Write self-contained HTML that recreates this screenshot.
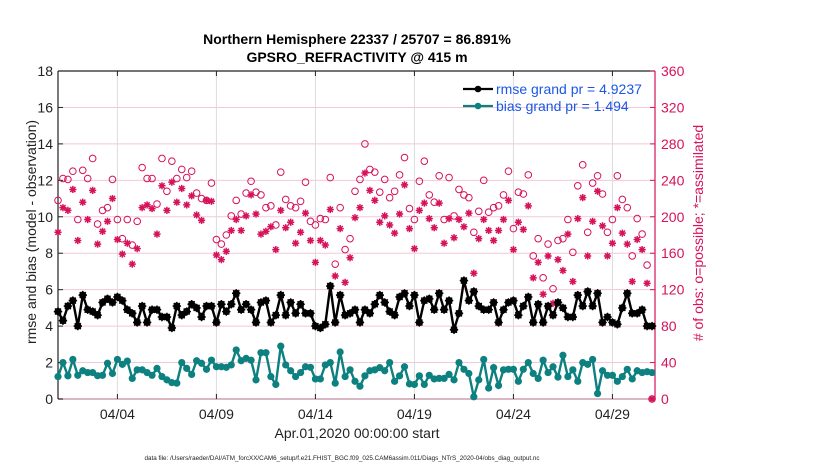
<!DOCTYPE html>
<html><head><meta charset="utf-8">
<style>
html,body{margin:0;padding:0;background:#fff;}
svg{display:block;font-family:"Liberation Sans",Arial,sans-serif;}
</style></head>
<body>
<svg id="chart" width="830" height="470" viewBox="0 0 830 470"></svg>
<script>
const rmseValues=[4.8,4.3,5.1,5.4,4.0,5.7,4.9,4.8,4.6,5.3,5.5,5.3,5.6,5.4,4.9,4.7,4.2,5.1,4.2,4.9,4.9,4.5,4.5,3.9,5.1,4.6,4.8,5.2,5.0,4.5,5.1,5.1,4.2,5.2,4.8,5.2,5.8,4.9,5.2,4.9,4.2,5.3,
5.4,4.2,4.6,5.7,4.6,5.3,4.7,5.2,4.7,4.7,4.0,3.9,4.1,6.2,4.2,5.7,4.6,4.7,4.9,4.2,4.9,4.7,5.2,5.7,5.3,4.8,4.6,5.6,5.8,5.1,5.7,4.2,5.4,5.5,4.9,5.8,4.9,5.4,
3.8,4.7,
6.5,5.4,5.9,5.1,4.9,4.9,5.3,4.2,4.9,5.3,5.4,4.6,5.1,5.6,4.2,5.2,4.2,5.1,4.6,5.3,5.0,4.5,4.5,5.7,5.1,5.9,5.1,5.8,4.2,4.5,4.2,4.1,5.0,5.8,4.7,4.7,4.9,4.0,
4.0];
const biasValues=[1.23,2.0,1.27,2.17,1.3,1.55,1.45,1.45,1.28,1.3,1.96,1.4,2.17,1.9,2.08,1.13,1.6,1.6,1.45,1.3,1.68,1.23,1.05,0.9,0.87,2.0,1.68,1.35,2.1,1.96,1.63,2.13,1.77,1.77,1.74,1.87,2.69,2.1,2.23,2.13,1.05,2.54,
2.54,1.23,0.8,2.9,1.87,1.55,1.23,1.45,1.77,1.74,1.1,1.1,1.87,2.0,0.87,2.58,1.23,1.6,0.97,0.7,1.27,1.55,1.6,1.72,1.55,2.0,0.97,1.27,1.77,0.83,0.8,1.27,0.8,1.3,1.1,1.13,1.13,1.35,
1.05,2.0,
1.63,1.4,0.12,1.05,2.17,0.6,1.72,0.74,1.6,1.63,1.63,0.97,1.63,2.0,1.4,1.13,2.13,1.45,1.77,1.2,2.4,1.23,1.6,0.97,2.0,1.9,2.17,0.3,1.55,1.3,1.3,0.97,1.23,1.63,1.1,1.55,1.45,1.5,
1.45];
const possibleCounts=[218,242,241,250,197,251,242,264,192,207,210,241,197,176,197,169,195,254,242,242,214,264,228,261,242,252,243,250,226,220,218,237,175,170,180,201,218,203,226,239,227,224,
210,212,191,249,219,212,210,217,238,195,191,198,197,243,148,210,164,176,228,241,280,252,249,227,241,221,228,246,265,209,197,239,261,224,216,245,197,243,
201,230,224,221,183,206,240,205,210,212,224,250,187,227,225,246,157,176,133,170,121,174,176,197,161,234,257,183,237,245,225,183,197,245,219,210,157,198,181,147,
0];
const assimCounts=[183,210,207,230,174,216,197,229,170,184,195,220,175,159,171,148,165,210,213,209,181,234,207,238,216,231,213,223,202,196,218,217,158,153,162,185,197,185,201,224,203,181,
184,189,164,207,188,194,171,183,204,174,150,174,169,208,135,187,128,155,199,210,248,229,218,194,201,191,182,203,235,187,165,207,215,198,188,215,171,198,
177,197,189,204,138,176,197,185,174,185,197,218,164,194,186,212,133,150,115,157,105,153,141,181,129,198,221,157,195,228,190,157,171,210,182,170,129,175,164,127,
0];
const xTickDays=[3,8,13,18,23,28];
const xTickLabels=["04/04","04/09","04/14","04/19","04/24","04/29"];
const leftTicks=[0,2,4,6,8,10,12,14,16,18];
const rightTicks=[0,40,80,120,160,200,240,280,320,360];

const NS="http://www.w3.org/2000/svg";
const svg=document.getElementById('chart');
const L=58,R=655,T=71,B=399;
const dayMax=30.15;
const sx=d=>L+(d/dayMax)*(R-L);
const sy=v=>B-(v/18)*(B-T);
const sy2=c=>B-(c/360)*(B-T);
const CR="#d6125a",TEAL="#0d8080";
function mk(tag,attrs,parent){const e=document.createElementNS(NS,tag);for(const k in attrs)e.setAttribute(k,attrs[k]);(parent||svg).appendChild(e);return e;}
function txt(s,attrs,parent){const e=mk('text',attrs,parent);e.textContent=s;return e;}
function starPath(x,y,r){const d=r*0.72;return `M${x-r},${y}H${x+r}M${x},${y-r}V${y+r}M${x-d},${y-d}L${x+d},${y+d}M${x-d},${y+d}L${x+d},${y-d}`;}

const grid=mk('g',{});


leftTicks.forEach(v=>{if(v>0&&v<18)mk('line',{x1:L,x2:R,y1:sy(v),y2:sy(v),stroke:"#f3c8d8","stroke-width":1},grid);});
xTickDays.forEach(d=>{mk('line',{x1:sx(d),x2:sx(d),y1:T,y2:B,stroke:"#dcdcdc","stroke-width":1},grid);});

mk('line',{x1:L,x2:R,y1:T,y2:T,stroke:"#222","stroke-width":1.2});
mk('line',{x1:L,x2:R,y1:B,y2:B,stroke:"#d9b8c4","stroke-width":2});
const la=mk('line',{x1:L,x2:L,y1:T,y2:B,stroke:"#222","stroke-width":1.2});


const ra=mk('line',{x1:R,x2:R,y1:T,y2:B,stroke:CR,"stroke-width":1.2});



leftTicks.forEach(v=>{
  mk('line',{x1:L,x2:L+5,y1:sy(v),y2:sy(v),stroke:"#222"});
  const t=txt(String(v),{x:L-5,y:sy(v)+5,"text-anchor":"end","font-size":14,fill:"#222"});
  
  
});
rightTicks.forEach(c=>{
  mk('line',{x1:R-5,x2:R,y1:sy2(c),y2:sy2(c),stroke:CR});
  const t=txt(String(c),{x:R+6,y:sy2(c)+5,"text-anchor":"start","font-size":14,fill:CR});
  
  
});
xTickDays.forEach((d,i)=>{
  mk('line',{x1:sx(d),x2:sx(d),y1:T,y2:T+5,stroke:"#222"});
  mk('line',{x1:sx(d),x2:sx(d),y1:B-5,y2:B,stroke:"#222"});
  const t=txt(xTickLabels[i],{x:sx(d),y:B+20,"text-anchor":"middle","font-size":14,fill:"#222"});
  
  
});

const cg=mk('g',{});


possibleCounts.forEach((c,i)=>{
  const p=mk('circle',{cx:sx(i*0.25),cy:sy2(c),r:3.3,fill:"none",stroke:CR,"stroke-width":1},cg);
  
  
});
assimCounts.forEach((c,i)=>{
  const s=mk('path',{d:starPath(sx(i*0.25),sy2(c),3.6),stroke:CR,"stroke-width":1.5,fill:"none"},cg);
  
  
});

function series(vals,color,name,star){
  const g=mk('g',{});
  
  
  const pts=vals.map((v,i)=>sx(i*0.25).toFixed(1)+','+sy(v).toFixed(1)).join(' ');
  mk('polyline',{points:pts,fill:"none",stroke:color,"stroke-width":2.4},g);
  vals.forEach((v,i)=>{
    const c=mk('circle',{cx:sx(i*0.25),cy:sy(v),r:3.6,fill:color},g);
    
    
    if(star){mk('path',{d:starPath(sx(i*0.25),sy(v),4.2),stroke:color,"stroke-width":1.4},g);}
  });
}
series(rmseValues,"#000",'rmse-series',true);
series(biasValues,TEAL,'bias-series',false);

const lg=mk('g',{});


mk('line',{x1:463,x2:493,y1:89,y2:89,stroke:"#000","stroke-width":2.2},lg);
mk('circle',{cx:478,cy:89,r:3.3,fill:"#000"},lg);
const l1=txt('rmse grand pr = 4.9237',{x:496,y:94,"font-size":14,fill:"#1a56e8"},lg);


mk('line',{x1:463,x2:493,y1:106,y2:106,stroke:TEAL,"stroke-width":2.2},lg);
mk('circle',{cx:478,cy:106,r:3.3,fill:TEAL},lg);
const l2=txt('bias grand pr = 1.494',{x:496,y:111,"font-size":14,fill:"#1a56e8"},lg);



const t1=txt('Northern Hemisphere 22337 / 25707 = 86.891%',{x:357,y:44,"text-anchor":"middle","font-size":14,"font-weight":"bold",fill:"#000"});


const t2=txt('GPSRO_REFRACTIVITY @ 415 m',{x:357,y:62,"text-anchor":"middle","font-size":14,"font-weight":"bold",fill:"#000"});


const yl=txt('rmse and bias (model - observation)',{x:0,y:0,"text-anchor":"middle","font-size":14,fill:"#222",transform:"translate(36,232) rotate(-90)"});


const yr=txt('# of obs: o=possible; *=assimilated',{x:0,y:0,"text-anchor":"middle","font-size":14,fill:CR,transform:"translate(703,233) rotate(-90)"});


const xl=txt('Apr.01,2020 00:00:00 start',{x:357,y:438,"text-anchor":"middle","font-size":14,fill:"#222"});


const fn=txt('data file: /Users/raeder/DAI/ATM_forcXX/CAM6_setup/f.e21.FHIST_BGC.f09_025.CAM6assim.011/Diags_NTrS_2020-04/obs_diag_output.nc',{x:342,y:460,"text-anchor":"middle","font-size":6.3,fill:"#222"});


</script>
</body></html>
